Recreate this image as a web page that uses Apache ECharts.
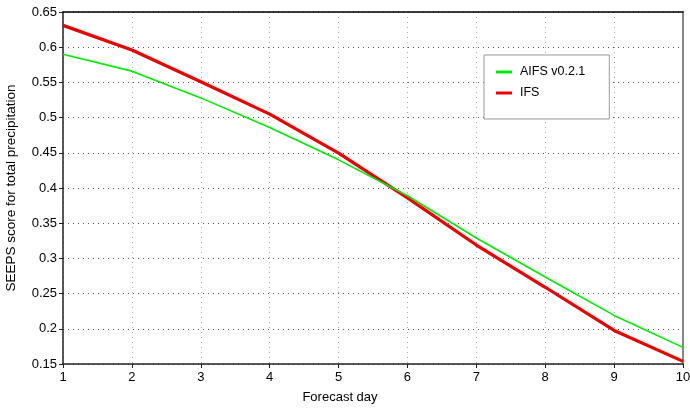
<!DOCTYPE html>
<html>
<head>
<meta charset="utf-8">
<script src="https://cdn.jsdelivr.net/npm/echarts@6/dist/echarts.min.js"></script>
<style>
html,body{margin:0;padding:0;background:#fff;}
#c{width:690px;height:408px;}
</style>
</head>
<body>
<div id="c"></div>
<script>
const days = [1, 2, 3, 4, 5, 6, 7, 8, 9, 10];
const aifs = [0.590, 0.566, 0.528, 0.486, 0.440, 0.389, 0.329, 0.2735, 0.219, 0.1736];
const ifs = [0.631, 0.596, 0.551, 0.505, 0.4495, 0.386, 0.319, 0.259, 0.1977, 0.1537];
const seriesNames = ['AIFS v0.2.1', 'IFS'];

const font = 'Liberation Sans, Arial, Helvetica, sans-serif';
const chart = echarts.init(document.getElementById('c'), null, {renderer: 'canvas'});
const pairs = (ys) => days.map((d, i) => [d, ys[i]]);

chart.setOption({
  animation: false,
  backgroundColor: '#fff',
  grid: {left: 63, right: 7, top: 12, bottom: 44, containLabel: false, outerBoundsMode: 'none'},
  legend: {
    left: 484, top: 55,
    orient: 'vertical',
    data: seriesNames,
    itemWidth: 16, itemHeight: 3,
    itemGap: 7,
    padding: [10, 24, 19, 12],
    borderColor: '#999', borderWidth: 1,
    backgroundColor: '#fff',
    icon: 'rect',
    textStyle: {fontFamily: font, fontSize: 12.5, lineHeight: 14, color: '#000', padding: [0, 0, 0, 3]}
  },
  xAxis: [{
    type: 'value', min: 1, max: 10, interval: 1,
    name: 'Forecast day', nameLocation: 'middle', nameGap: 27,
    nameTextStyle: {fontFamily: font, fontSize: 13, color: '#000', padding: [0, 66, 0, 0]},
    axisLine: {show: true, lineStyle: {color: '#222', width: 1.5}},
    axisTick: {show: true, length: 4, lineStyle: {color: '#222'}},
    axisLabel: {fontFamily: font, fontSize: 13, color: '#000', margin: 7},
    splitLine: {show: true, lineStyle: {color: '#aaa', type: [1, 4], width: 1}}
  }, {
    type: 'value', min: 1, max: 10, position: 'top',
    axisLine: {show: true, onZero: false, lineStyle: {color: '#000', width: 1.5}},
    axisTick: {show: false}, axisLabel: {show: false}, splitLine: {show: false}
  }],
  yAxis: [{
    type: 'value', min: 0.15, max: 0.65, interval: 0.05,
    name: 'SEEPS score for total precipitation', nameLocation: 'middle', nameGap: 45,
    nameTextStyle: {fontFamily: font, fontSize: 13.5, color: '#000'},
    axisLine: {show: true, lineStyle: {color: '#222', width: 1.5}},
    axisTick: {show: true, length: 4, lineStyle: {color: '#222'}},
    axisLabel: {fontFamily: font, fontSize: 13, color: '#000', margin: 6,
      formatter: v => String(parseFloat(v.toFixed(2)))},
    splitLine: {show: true, lineStyle: {color: '#555', type: [1, 4], width: 1}}
  }, {
    type: 'value', min: 0.15, max: 0.65, position: 'right',
    axisLine: {show: true, onZero: false, lineStyle: {color: '#888', width: 2}},
    axisTick: {show: false}, axisLabel: {show: false}, splitLine: {show: false}
  }],
  series: [{
    name: seriesNames[0], type: 'line', data: pairs(aifs),
    symbol: 'none', color: '#00ee00',
    lineStyle: {color: '#00ee00', width: 1.6}, z: 3
  }, {
    name: seriesNames[1], type: 'line', data: pairs(ifs),
    symbol: 'none', color: '#ee0000',
    lineStyle: {color: '#ee0000', width: 3.2}, z: 2
  }]
});
</script>
</body>
</html>
